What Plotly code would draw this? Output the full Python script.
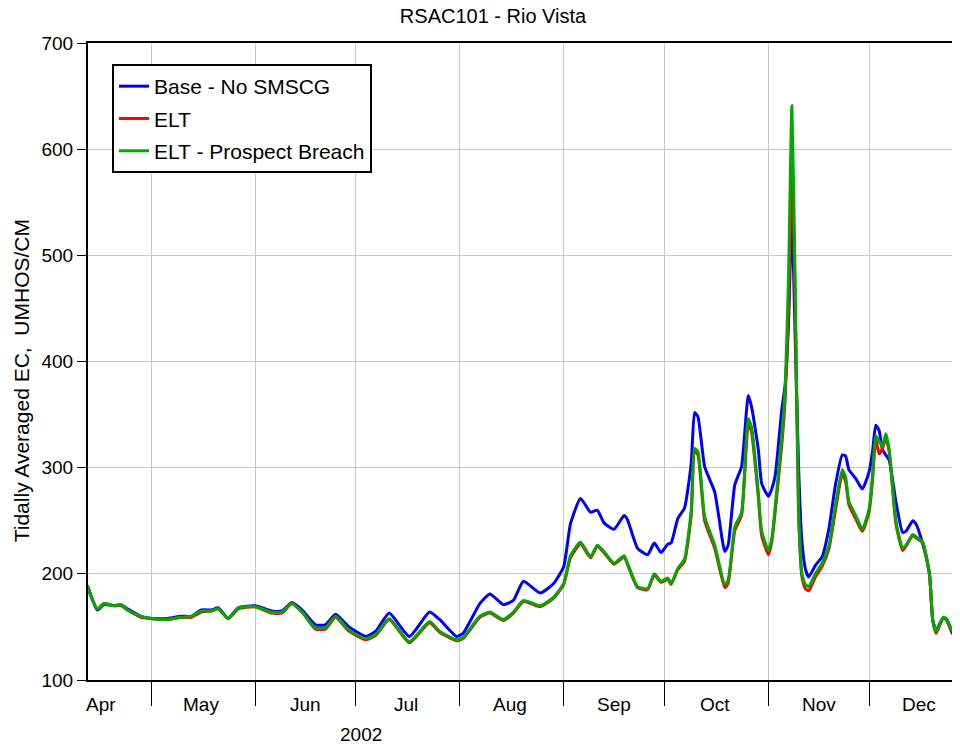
import plotly.graph_objects as go

dates = [
    "2002-04-12", "2002-04-15", "2002-04-17", "2002-04-20", "2002-04-22", "2002-04-24", "2002-04-28",
    "2002-05-01", "2002-05-06", "2002-05-10", "2002-05-13", "2002-05-16", "2002-05-19", "2002-05-21",
    "2002-05-24", "2002-05-27", "2002-06-01", "2002-06-06", "2002-06-09", "2002-06-12", "2002-06-15",
    "2002-06-19", "2002-06-22", "2002-06-25", "2002-06-29", "2002-07-04", "2002-07-07", "2002-07-11",
    "2002-07-17", "2002-07-23", "2002-07-26", "2002-07-31", "2002-08-02", "2002-08-07", "2002-08-10",
    "2002-08-14", "2002-08-17", "2002-08-20", "2002-08-25", "2002-08-29", "2002-09-01", "2002-09-03",
    "2002-09-06", "2002-09-09", "2002-09-11", "2002-09-13", "2002-09-16", "2002-09-19", "2002-09-20",
    "2002-09-23", "2002-09-26", "2002-09-28", "2002-09-30", "2002-10-02", "2002-10-03", "2002-10-05",
    "2002-10-07", "2002-10-09", "2002-10-10", "2002-10-11", "2002-10-13", "2002-10-16", "2002-10-19",
    "2002-10-20", "2002-10-22", "2002-10-24", "2002-10-26", "2002-10-27", "2002-10-29", "2002-10-30",
    "2002-11-01", "2002-11-02", "2002-11-03", "2002-11-05", "2002-11-06", "2002-11-07", "2002-11-08",
    "2002-11-09", "2002-11-10", "2002-11-11", "2002-11-12", "2002-11-13", "2002-11-15", "2002-11-17",
    "2002-11-19", "2002-11-21", "2002-11-23", "2002-11-24", "2002-11-25", "2002-11-27", "2002-11-29",
    "2002-12-01", "2002-12-02", "2002-12-03", "2002-12-04", "2002-12-05", "2002-12-06", "2002-12-07",
    "2002-12-09", "2002-12-11", "2002-12-12", "2002-12-14", "2002-12-15", "2002-12-17", "2002-12-19",
    "2002-12-20", "2002-12-21", "2002-12-23", "2002-12-24", "2002-12-26", "2002-12-28", "2002-12-29",
]

base_no_smscg = [
    189, 166, 171, 170, 171, 167, 160,
    158, 158, 160, 160, 166, 166, 168,
    158, 168, 170, 165, 165, 173, 166,
    152, 152, 162, 150, 141, 146, 163,
    141, 164, 157, 141, 144, 172, 181,
    171, 175, 193, 182, 191, 207, 247,
    271, 258, 260, 248, 242, 255, 251,
    224, 218, 229, 220, 228, 229, 252,
    262, 304, 352, 348, 301, 277, 221,
    227, 284, 301, 368, 357, 317, 285,
    273, 280, 292, 355, 378, 437, 537,
    420, 300, 230, 205, 197, 208, 216,
    242, 284, 312, 311, 298, 290, 280,
    296, 314, 340, 335, 317, 312, 307,
    268, 239, 240, 250, 247, 228, 200,
    156, 147, 158, 158, 143, 158, 166,
]

elt = [
    189, 167, 172, 170, 170, 166, 159,
    158, 157, 159, 159, 164, 165, 167,
    158, 167, 169, 163, 163, 172, 164,
    148, 148, 159, 146, 138, 142, 157,
    135, 154, 145, 137, 139, 159, 163,
    156, 163, 174, 169, 177, 190, 215,
    228, 215, 226, 220, 209, 216, 209,
    187, 185, 199, 192, 195, 190, 204,
    212, 255, 315, 312, 250, 224, 187,
    191, 241, 255, 342, 333, 272, 236,
    218, 230, 258, 322, 365, 450, 585,
    450, 255, 197, 186, 184, 197, 207,
    223, 260, 294, 287, 265, 252, 240,
    258, 287, 327, 313, 318, 328, 315,
    247, 222, 226, 236, 234, 229, 199,
    155, 144, 158, 157, 145, 159, 167,
]

elt_prospect_breach = [
    189, 167, 172, 170, 171, 166, 160,
    158, 157, 159, 160, 165, 165, 167,
    158, 168, 169, 164, 164, 172, 164,
    149, 149, 160, 147, 139, 143, 158,
    136, 155, 146, 138, 140, 160, 164,
    157, 164, 175, 170, 178, 191, 217,
    230, 216, 227, 221, 210, 217, 210,
    188, 186, 200, 193, 196, 191, 205,
    214, 260, 318, 315, 254, 227, 190,
    194, 244, 258, 346, 338, 276, 240,
    222, 233, 262, 330, 375, 480, 641,
    470, 260, 200, 190, 188, 200, 210,
    226, 265, 298, 291, 268, 255, 242,
    261, 291, 330, 325, 320, 332, 317,
    250, 224, 227, 237, 235, 230, 200,
    156, 146, 159, 158, 146, 160, 168,
]

series_names = ["Base - No SMSCG", "ELT", "ELT - Prospect Breach"]
series_colors = ["#0000FF", "#FF0000", "#00AA00"]

month_starts = ["2002-04-01", "2002-05-01", "2002-06-01", "2002-07-01", "2002-08-01",
                "2002-09-01", "2002-10-01", "2002-11-01", "2002-12-01"]
month_label_dates = ["2002-04-16", "2002-05-16", "2002-06-16", "2002-07-16", "2002-08-16",
                     "2002-09-16", "2002-10-16", "2002-11-16", "2002-12-16"]
month_labels = ["Apr", "May", "Jun", "Jul", "Aug", "Sep", "Oct", "Nov", "Dec"]
y_ticks = [100, 200, 300, 400, 500, 600, 700]

FONT = "Liberation Sans, Arial, sans-serif"
FS = 19

fig = go.Figure()
for i, (name, vals, col) in enumerate(zip(series_names,
                                          [base_no_smscg, elt, elt_prospect_breach],
                                          series_colors)):
    fig.add_trace(go.Scatter(x=dates, y=vals, mode="lines", name=name,
                             legendgroup=f"g{i}",
                             line=dict(color=col, width=3, shape="spline", smoothing=0.5)))

annotations = []
for d, lab in zip(month_label_dates, month_labels):
    annotations.append(dict(x=d, y=-0.039, xref="x", yref="paper", text=lab,
                            showarrow=False, xanchor="center", yanchor="middle",
                            font=dict(family=FONT, size=FS, color="black")))
annotations.append(dict(x=0.313, y=-0.0863, xref="paper", yref="paper", text="2002",
                        showarrow=False, xanchor="center", yanchor="middle",
                        font=dict(family=FONT, size=FS, color="black")))
annotations.append(dict(x=-0.0768, y=0.469, xref="paper", yref="paper",
                        text="Tidally Averaged EC,  UMHOS/CM", textangle=-90,
                        showarrow=False, xanchor="center", yanchor="middle",
                        font=dict(family=FONT, size=21, color="black")))

fig.update_layout(
    width=952, height=740,
    margin=dict(l=80, r=0, t=35, b=68),
    paper_bgcolor="white", plot_bgcolor="white",
    font=dict(family=FONT, size=FS, color="black"),
    title=dict(text="RSAC101 - Rio Vista", x=0.5095, xref="container", xanchor="center",
               y=1.0, yref="container", yanchor="top", pad=dict(t=1, b=0),
               font=dict(family=FONT, size=20, color="black")),
    showlegend=True,
    legend=dict(x=0.0275, y=0.967, xanchor="left", yanchor="top",
                bgcolor="white", bordercolor="black", borderwidth=2,
                font=dict(family=FONT, size=21, color="black"),
                traceorder="grouped", tracegroupgap=2),
    annotations=annotations,
    xaxis=dict(type="date", range=["2002-04-12 05:17", "2002-12-28 02:24"],
               tickmode="array", tickvals=month_starts, ticktext=[""] * len(month_starts),
               showticklabels=False, ticks="outside", ticklen=24, tickwidth=1, tickcolor="black",
               showgrid=True, gridcolor="#C8C8C8", gridwidth=1,
               showline=True, linecolor="black", linewidth=2, mirror=True, zeroline=False),
    yaxis=dict(range=[100, 700], tickmode="array", tickvals=y_ticks,
               ticks="outside", ticklen=9, tickwidth=1, tickcolor="black",
               showgrid=True, gridcolor="#C8C8C8", gridwidth=1,
               showline=True, linecolor="black", linewidth=2, mirror=False, zeroline=False,
               tickfont=dict(family=FONT, size=FS, color="black")),
)

fig.write_html("out.html")
